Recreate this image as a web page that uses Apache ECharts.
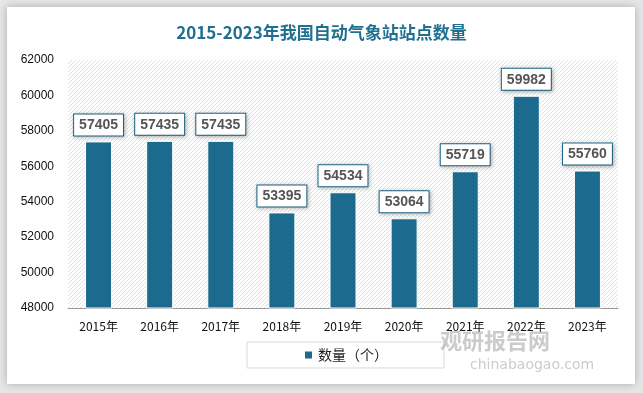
<!DOCTYPE html>
<html><head><meta charset="utf-8">
<script src="https://cdn.jsdelivr.net/npm/echarts@6/dist/echarts.min.js"></script>
<style>html,body{margin:0;padding:0;background:#e6e6e6;}#c{width:643px;height:393px;}</style>
</head><body><div id="c"></div>
<script>
const categories = ['2015年','2016年','2017年','2018年','2019年','2020年','2021年','2022年','2023年'];
const values = [57405, 57435, 57435, 53395, 54534, 53064, 55719, 59982, 55760];
const seriesName = '数量（个）';
const titleText = '2015-2023年我国自动气象站站点数量';

const pc = document.createElement('canvas');
pc.width = 4; pc.height = 4;
const g = pc.getContext('2d');
g.fillStyle = '#ffffff'; g.fillRect(0,0,4,4);
g.strokeStyle = '#e0e0e0'; g.lineWidth = 1;
g.beginPath(); g.moveTo(0,4); g.lineTo(4,0); g.stroke();
g.beginPath(); g.moveTo(-1,1); g.lineTo(1,-1); g.stroke();
g.beginPath(); g.moveTo(3,5); g.lineTo(5,3); g.stroke();

const chart = echarts.init(document.getElementById('c'), null, {renderer:'canvas'});
chart.setOption({
  backgroundColor: '#e6e6e6',
  animation: false,
  graphic: [
    {type:'rect', shape:{x:7,y:7,width:628,height:377}, style:{fill:'#ffffff', shadowBlur:8, shadowColor:'rgba(0,0,0,0.25)'}, z:-10},
    {type:'text', left:440, top:330, style:{text:'观研报告网', font:'bold 22px "Noto Sans CJK SC"', fill:'rgba(140,140,140,0.45)'}, z:100},
    {type:'text', left:470, top:358, style:{text:'chinabaogao.com', font:'14px "DejaVu Sans"', fill:'rgba(140,140,140,0.45)'}, z:100}
  ],
  title: {
    text: titleText, left: 'center', top: 19,
    textStyle: {fontSize: 17, fontWeight: 'bold', color: '#1f6f91', fontFamily: '"Noto Sans CJK SC"'}
  },
  legend: {
    data: [seriesName], top: 342, left: 247,
    itemWidth: 9, itemHeight: 9, icon: 'rect',
    padding: [6, 56, 6, 56],
    borderColor: '#d9d9d9', borderWidth: 1,
    textStyle: {fontSize: 14, color: '#222', fontFamily: '"Noto Sans CJK SC"'}
  },
  grid: {
    left: 68, right: 25, top: 60, bottom: 85,
    show: true, borderWidth: 0,
    backgroundColor: {image: pc, repeat: 'repeat'}
  },
  xAxis: {
    type: 'category', data: categories,
    axisLine: {lineStyle: {color: '#999'}},
    axisTick: {show: false},
    axisLabel: {fontSize: 12, color: '#111', margin: 12, fontFamily: '"Noto Sans CJK SC"'}
  },
  yAxis: {
    type: 'value', min: 48000, max: 62000, interval: 2000,
    axisLine: {show: false}, axisTick: {show: false},
    splitLine: {show: false},
    axisLabel: {fontSize: 12, color: '#111', margin: 14, fontFamily: 'Liberation Sans', formatter: v => String(v)}
  },
  series: [{
    name: seriesName, type: 'bar', data: values, barWidth: 27,
    itemStyle: {color: '#1c6b8e', borderColor: '#ffffff', borderWidth: 1},
    label: {
      show: true, position: 'top', distance: 6,
      fontSize: 14, fontWeight: 'bold', color: '#555',
      fontFamily: 'Liberation Sans',
      backgroundColor: '#fff', borderColor: '#1c6b8e', borderWidth: 1,
      padding: [4, 5, 3, 5],
      shadowBlur: 4, shadowColor: 'rgba(0,0,0,0.25)', shadowOffsetX: 1, shadowOffsetY: 1
    }
  }]
});
</script></body></html>
